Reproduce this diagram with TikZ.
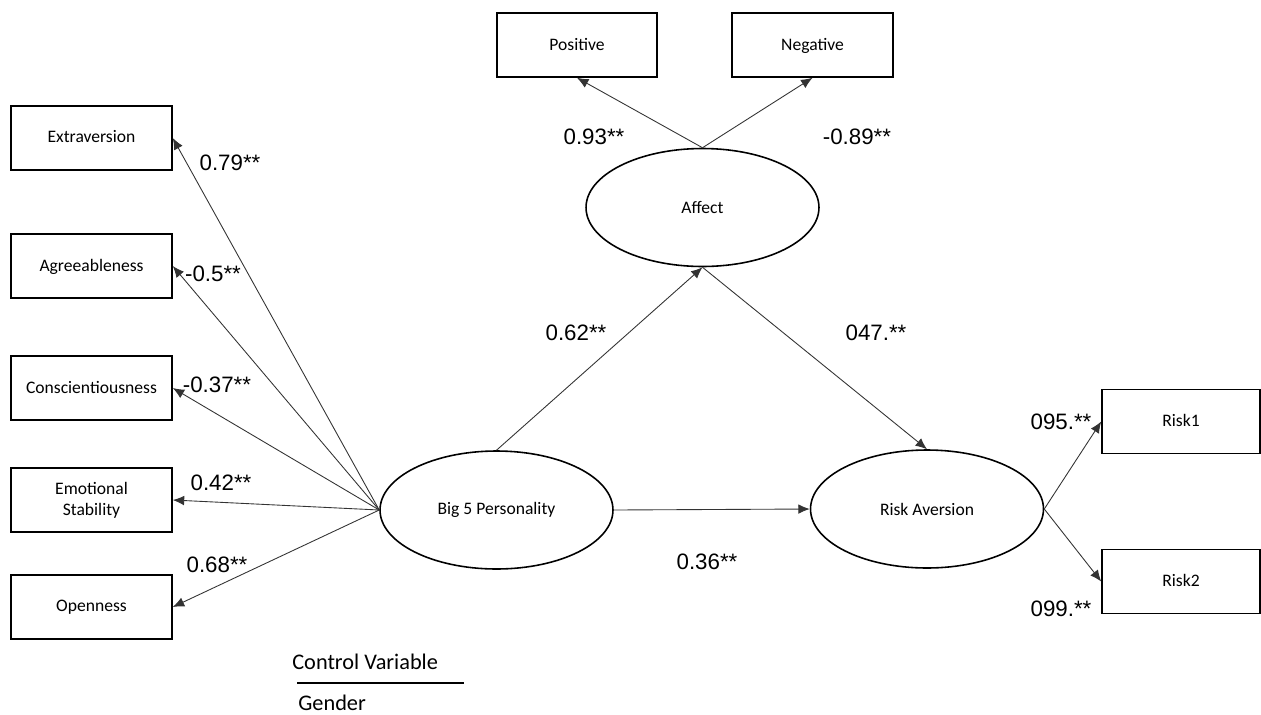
\documentclass[tikz,border=0pt]{standalone}
\usepackage{fontspec}
\setmainfont{Carlito}
\newfontfamily\numfont{Liberation Sans}
\usetikzlibrary{shapes.geometric,arrows.meta}

\begin{document}
\begin{tikzpicture}[x=0.02cm, y=-0.02cm, >={Latex[length=6.5pt,width=5.5pt]},
  box/.style={draw, line width=0.9pt, minimum width=3.22cm, minimum height=1.28cm,
              align=center, text depth=0.25ex, font=\fontsize{10}{12}\selectfont},
  latent/.style={draw, ellipse, line width=0.9pt, minimum width=4.66cm,
                 minimum height=2.36cm, font=\fontsize{10}{12}\selectfont},
  link/.style={->, line width=0.5pt, black!80},
  coef/.style={font=\numfont\fontsize{12.7}{14}\selectfont}]

  \useasboundingbox (0,0) rectangle (1261,714);

  % Indikatoren Big 5
  \node[box] (ext) at (91.5,138) {Extraversion};
  \node[box] (agr) at (91.5,266) {Agreeableness};
  \node[box] (con) at (91.5,388) {Conscientiousness};
  \node[box] (emo) at (91.5,500) {Emotional\\Stability};
  \node[box] (ope) at (91.5,607) {Openness};

  % Indikatoren Affect
  \node[box, minimum width=3.2cm] (pos) at (577,45) {Positive};
  \node[box] (neg) at (812.5,45) {Negative};

  % Latente Variablen
  \node[latent] (aff) at (702.5,207.5) {Affect};
  \node[latent] (big) at (496.5,510) {Big 5 Personality};
  \node[latent] (risk) at (927,509) {Risk Aversion};

  % Indikatoren Risk Aversion
  \node[box, minimum width=3.16cm] (rone) at (1181,421.5) {Risk1};
  \node[box, minimum width=3.16cm] (rtwo) at (1181,581.5) {Risk2};

  % Pfade
  \foreach \t in {ext,agr,con,emo,ope}
    \draw[link] (big.west) -- (\t.east);
  \draw[link] (aff.north) -- (pos.south);
  \draw[link] (aff.north) -- (neg.south);
  \draw[link] (big.north) -- (aff.south);
  \draw[link] (aff.south) -- (risk.north);
  \draw[link] (big.east) -- (risk.west);
  \draw[link] (risk.east) -- (rone.west);
  \draw[link] (risk.east) -- (rtwo.west);

  % Koeffizienten
  \node[coef] (cext) at (230,163) {0.79**};
  \node[coef] (cagr) at (213,274) {-0.5**};
  \node[coef] (ccon) at (217,385) {-0.37**};
  \node[coef] (cemo) at (221,483) {0.42**};
  \node[coef] (cope) at (217,565) {0.68**};
  \node[coef] (cpos) at (594,137) {0.93**};
  \node[coef] (cneg) at (857,137) {-0.89**};
  \node[coef] (caff) at (576,333) {0.62**};
  \node[coef] (crisk) at (876,333) {047.**};
  \node[coef] (cdir) at (707,562) {0.36**};
  \node[coef] (crone) at (1061,422) {095.**};
  \node[coef] (crtwo) at (1061,609) {099.**};

  % Kontrollvariable
  \node[anchor=west, inner sep=0pt, font=\fontsize{12.7}{14}\selectfont] (ctrl) at (292,662) {Control Variable};
  \node[anchor=west, inner sep=0pt, font=\fontsize{12.7}{14}\selectfont] (gen) at (298,703) {Gender};
  \coordinate (rulel) at (297,683);
  \coordinate (ruler) at (464,683);
  \draw[line width=0.6pt] (rulel) -- (ruler);
\end{tikzpicture}
\end{document}
